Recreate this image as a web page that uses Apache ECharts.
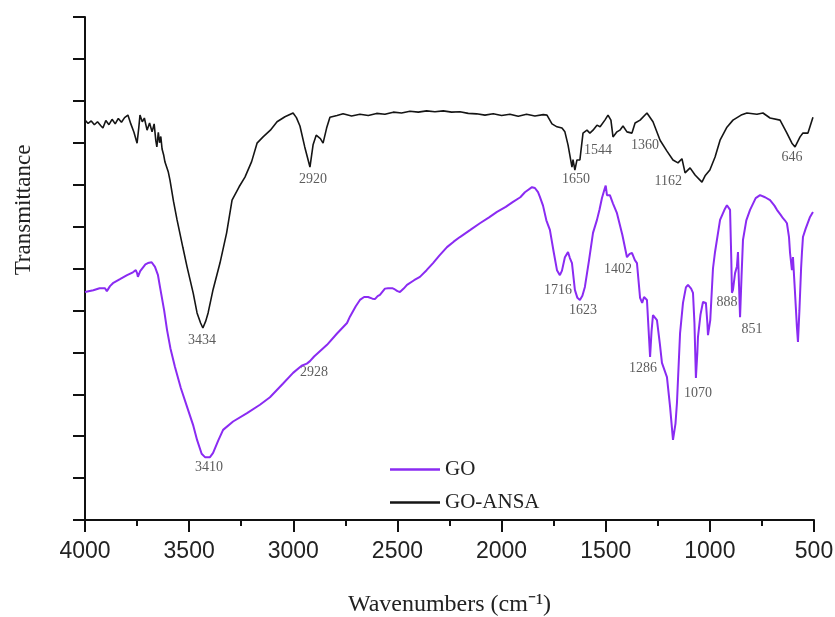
<!DOCTYPE html>
<html><head><meta charset="utf-8">
<script src="https://cdn.jsdelivr.net/npm/echarts@6/dist/echarts.min.js"></script>
<style>html,body{margin:0;padding:0;background:#fff;overflow:hidden}#c{width:835px;height:617px}</style>
</head><body><div id="c"></div>
<script>
// GO-ANSA (black) spectrum: wavenumber (cm-1) and transmittance (arb. units)
const goAnsaWave = [4000,3985,3970,3955,3940,3925,3914,3900,3885,3870,3855,3840,3825,3810,3794,3780,3765,3750,3742,3736,3725,3715,3702,3690,3678,3668,3660,3655,3648,3642,3636,3630,3622,3616,3600,3592,3575,3558,3530,3510,3480,3462,3445,3434,3420,3409,3385,3352,3320,3294,3260,3232,3200,3174,3145,3110,3078,3040,3001,2985,2968,2945,2920,2905,2890,2870,2857,2840,2824,2790,2761,2720,2680,2640,2600,2560,2520,2480,2440,2400,2360,2320,2280,2240,2200,2160,2120,2080,2040,2000,1960,1920,1880,1840,1800,1782,1758,1734,1710,1696,1681,1662,1657,1648,1638,1624,1609,1590,1576,1561,1542,1527,1504,1489,1475,1465,1446,1432,1417,1398,1374,1359,1335,1302,1273,1239,1206,1177,1153,1134,1119,1095,1071,1038,1023,1000,975,951,918,889,850,822,774,745,711,663,630,606,591,567,553,529,505];
const goAnsaT = [95.4,94.6,95.2,94.3,95.0,94.1,93.5,95.3,94.3,95.6,94.5,95.8,94.9,96.0,96.6,94.5,92.5,89.9,93.5,96.6,95.0,95.9,93.0,94.7,92.6,94.5,90.5,89.0,92.5,90.0,91.5,88.5,87.0,85.4,83.0,81.1,76.0,71.6,65.0,60.4,54.0,49.4,47.0,45.8,47.5,49.4,55.0,61.3,68.5,76.3,79.5,81.8,85.5,89.9,91.4,93.0,95.0,96.2,97.1,96.0,94.0,89.0,84.2,89.5,91.8,91.0,89.9,93.5,96.1,96.5,96.9,96.4,96.8,96.5,97.0,96.8,97.3,97.1,97.5,97.3,97.6,97.4,97.6,97.3,97.4,97.0,96.9,96.6,96.9,96.5,96.8,96.3,96.8,96.4,96.7,96.6,94.5,93.8,93.5,92.6,89.5,84.2,86.0,83.5,85.9,85.9,92.3,93.0,92.3,93.0,94.2,93.8,95.4,96.6,95.4,91.4,92.6,93.0,94.0,92.6,92.3,94.7,95.4,97.1,95.0,90.6,88.0,85.9,85.2,86.2,82.8,84.0,82.3,80.6,82.1,83.5,86.6,90.6,93.7,95.4,96.6,97.1,96.8,97.1,95.9,95.4,92.3,89.9,89.0,91.4,92.3,92.3,96.1];

// GO (purple) spectrum
const goWave = [4000,3960,3930,3904,3895,3880,3866,3830,3798,3770,3756,3750,3746,3735,3726,3710,3698,3680,3664,3650,3640,3620,3606,3590,3568,3540,3510,3480,3462,3440,3424,3400,3385,3360,3337,3289,3222,3160,3112,3050,3001,2960,2935,2920,2900,2838,2790,2742,2728,2700,2680,2660,2641,2620,2608,2595,2584,2560,2545,2525,2512,2500,2488,2470,2454,2420,2392,2360,2329,2300,2262,2230,2200,2150,2104,2060,2022,1980,1945,1910,1888,1854,1840,1825,1816,1801,1785,1768,1750,1734,1720,1710,1696,1681,1672,1662,1648,1636,1624,1612,1600,1580,1561,1542,1530,1518,1504,1500,1494,1480,1465,1446,1420,1398,1385,1374,1360,1350,1335,1325,1316,1302,1287,1280,1273,1265,1254,1240,1230,1206,1191,1177,1165,1158,1143,1129,1115,1105,1090,1081,1074,1067,1060,1057,1045,1033,1019,1012,1009,998,985,975,951,930,918,903,897,894,889,879,870,865,860,855,848,841,825,807,780,759,735,711,690,678,660,649,640,630,620,615,606,601,592,582,577,570,562,558,553,540,519,505];
const goT = [54.4,54.8,55.3,55.3,54.6,55.8,56.5,57.5,58.4,59.1,59.6,58.9,58.0,59.4,59.6,61.0,61.3,61.5,60.4,58.5,55.6,50.0,45.3,41.0,36.5,31.5,27.0,22.5,19.1,15.8,15.0,15.0,16.0,19.0,21.5,23.5,25.5,27.5,29.3,32.5,35.1,36.8,37.3,37.9,39.0,41.8,44.5,47.0,48.5,51.0,52.5,53.2,53.2,52.8,52.7,53.4,53.7,55.2,55.3,55.3,55.0,54.6,54.4,55.2,56.1,57.2,58.0,59.6,61.3,63.0,65.1,66.4,67.5,69.2,70.8,72.2,73.5,74.7,75.9,77.0,78.2,79.4,79.2,78.2,77.1,75.0,71.5,69.2,64.0,59.6,58.4,59.5,62.7,63.9,62.5,61.3,54.9,53.0,52.5,53.5,55.6,62.0,68.5,71.6,74.0,76.8,79.2,79.8,77.5,77.5,75.5,73.2,68.0,62.7,63.5,63.7,62.0,61.3,53.0,51.8,53.2,52.5,38.9,45.0,48.9,48.5,47.7,42.0,37.5,34.1,27.0,19.1,23.0,27.9,44.6,51.8,55.5,56.1,55.2,54.2,47.0,33.9,40.0,43.7,49.0,52.0,51.8,47.0,44.1,47.7,60.0,64.0,71.6,74.0,75.1,74.0,62.0,54.2,54.9,58.9,60.5,63.9,56.0,48.4,58.0,66.8,71.5,74.0,76.8,77.5,77.0,76.3,75.0,74.0,72.8,72.0,71.5,70.8,67.5,63.7,59.6,62.7,55.0,46.0,42.5,50.0,60.0,63.7,67.5,69.5,72.3,73.5];

// Peak annotations (text, anchor wavenumber, anchor transmittance)
const peakText = ['3434','2920','1650','1544','1360','1162','646','3410','2928','1716','1623','1402','1286','1070','888','851'];
const peakWave = [3438,2905,1643,1537,1311,1200,606,3405,2901,1729,1609,1441,1321,1057,918,798];
const peakT = [42.9,81.3,81.3,88.3,89.5,80.9,86.6,12.6,35.3,54.9,50.1,59.9,36.3,30.3,52.0,45.6];

const xTicks = [500,1000,1500,2000,2500,3000,3500,4000];

const zip = (a, b) => a.map((v, i) => [v, b[i]]);
const chart = echarts.init(document.getElementById('c'), null, {renderer: 'canvas', width: 835, height: 617});
const serif = '"Liberation Serif", "Times New Roman", serif';
chart.setOption({
  animation: false,
  backgroundColor: '#fff',
  grid: {left: 85, top: 17, width: 729, height: 503, containLabel: false, outerBoundsMode: 'none'},
  xAxis: {
    type: 'value', inverse: true, min: 500, max: 4000, interval: 500,
    name: 'Wavenumbers (cm\u207B\u00B9)', nameLocation: 'middle', nameGap: 73,
    nameTextStyle: {fontFamily: serif, fontSize: 24, color: '#222'},
    axisLine: {show: true, onZero: false, lineStyle: {color: '#111', width: 2}},
    axisTick: {show: true, inside: false, length: 12, lineStyle: {color: '#111', width: 2}},
    minorTick: {show: true, splitNumber: 2, length: 6, lineStyle: {color: '#111', width: 2}},
    axisLabel: {margin: 20, fontFamily: '"Liberation Sans", Arial, sans-serif', fontSize: 23, color: '#222',
      formatter: v => xTicks.includes(v) ? String(v) : ''},
    splitLine: {show: false}
  },
  yAxis: {
    type: 'value', min: 0, max: 120, interval: 10,
    axisLine: {show: true, onZero: false, lineStyle: {color: '#111', width: 2}},
    axisTick: {show: true, inside: false, length: 12, lineStyle: {color: '#111', width: 2}},
    axisLabel: {show: false},
    splitLine: {show: false}
  },
  legend: {
    data: ['GO', 'GO-ANSA'], orient: 'vertical', left: 385, top: 454,
    icon: 'rect', itemWidth: 50, itemHeight: 2.5, itemGap: 12,
    textStyle: {fontFamily: serif, fontSize: 21, color: '#222'}
  },
  graphic: [{
    type: 'text', x: 24, y: 210, rotation: Math.PI / 2,
    style: {text: 'Transmittance', font: '23px "Liberation Serif"', fill: '#222', align: 'center', verticalAlign: 'middle'}
  }],
  series: [
    {name: 'GO-ANSA', type: 'line', data: zip(goAnsaWave, goAnsaT), showSymbol: false,
      lineStyle: {color: '#151515', width: 1.6}, itemStyle: {color: '#151515'}},
    {name: 'GO', type: 'line', data: zip(goWave, goT), showSymbol: false,
      lineStyle: {color: '#8A2BF2', width: 2}, itemStyle: {color: '#8A2BF2'}},
    {name: 'peaks', type: 'scatter', silent: true, symbolSize: 1, itemStyle: {color: 'rgba(0,0,0,0)'},
      data: peakText.map((t, i) => ({value: [peakWave[i], peakT[i]], name: t})),
      label: {show: true, position: 'inside', formatter: p => p.name,
        fontFamily: serif, fontSize: 14, color: '#333'}}
  ]
});
</script></body></html>
